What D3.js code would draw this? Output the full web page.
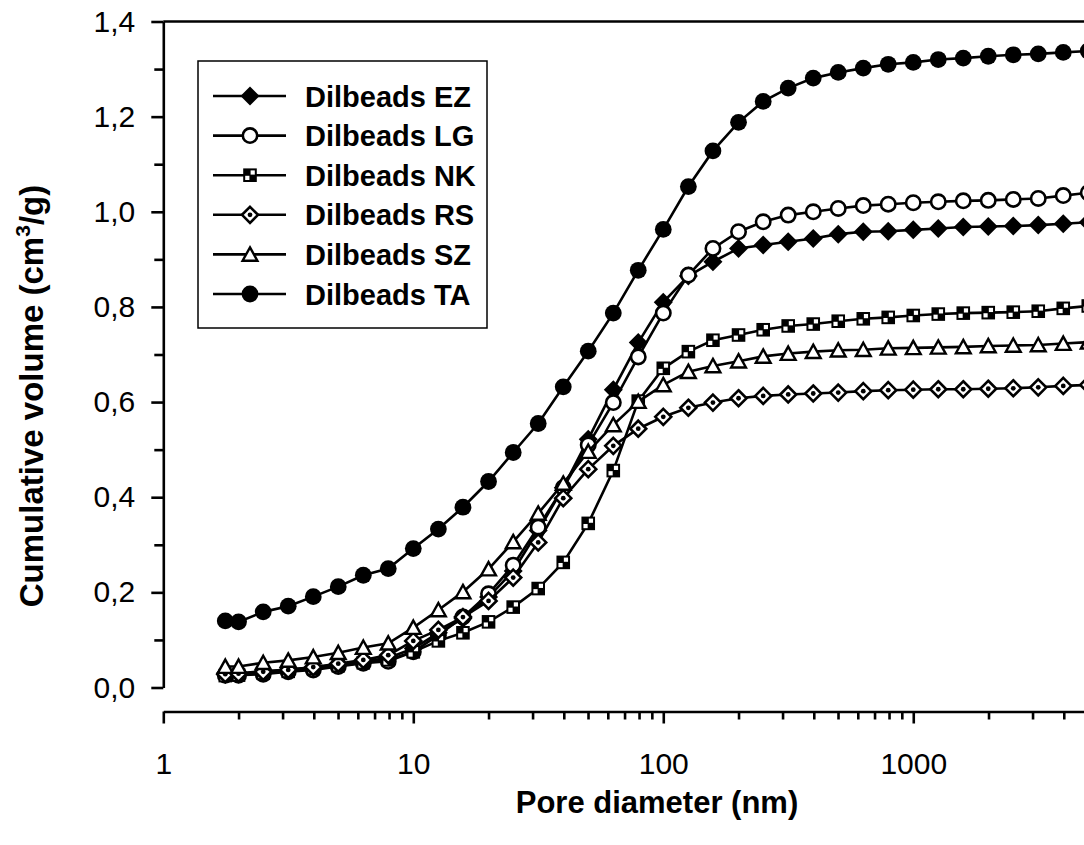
<!DOCTYPE html>
<html>
<head>
<meta charset="utf-8">
<script src="https://cdn.jsdelivr.net/npm/d3@7"></script>
<style>
  html, body { margin: 0; padding: 0; background: #fff; }
  text { font-family: 'Liberation Sans', Arial, sans-serif; }
</style>
</head>
<body>
<div id="chart"></div>
<script>
// data
const diameters = [1.77, 2.0, 2.51, 3.16, 3.98, 5.01, 6.31, 7.94, 10.0, 12.6, 15.8, 20.0,
  25.1, 31.6, 39.8, 50.1, 63.1, 79.4, 100, 126, 158, 200, 251, 316, 398, 501, 631, 794,
  1000, 1259, 1585, 1995, 2512, 3162, 3981, 5012]

const ez = [0.030, 0.030, 0.034, 0.038, 0.042, 0.048, 0.055, 0.062, 0.082, 0.115, 0.145, 0.190,
  0.245, 0.330, 0.420, 0.522, 0.626, 0.725, 0.810, 0.865, 0.895, 0.923, 0.930, 0.937,
  0.944, 0.953, 0.958, 0.959, 0.962, 0.965, 0.968, 0.969, 0.970, 0.972, 0.975, 0.978]
const lg = [0.026, 0.026, 0.028, 0.033, 0.037, 0.044, 0.051, 0.055, 0.075, 0.110, 0.148, 0.197,
  0.257, 0.337, 0.420, 0.510, 0.599, 0.695, 0.787, 0.867, 0.923, 0.958, 0.979, 0.993,
  1.000, 1.007, 1.013, 1.016, 1.019, 1.021, 1.023, 1.024, 1.026, 1.028, 1.034, 1.040]
const nk = [0.025, 0.026, 0.030, 0.034, 0.040, 0.046, 0.052, 0.058, 0.075, 0.098, 0.115, 0.138,
  0.169, 0.208, 0.263, 0.345, 0.456, 0.602, 0.671, 0.706, 0.730, 0.741, 0.752, 0.760,
  0.764, 0.770, 0.775, 0.778, 0.782, 0.785, 0.787, 0.788, 0.789, 0.791, 0.797, 0.802]
const rs = [0.028, 0.029, 0.033, 0.037, 0.043, 0.050, 0.058, 0.068, 0.098, 0.121, 0.148, 0.182,
  0.231, 0.305, 0.398, 0.459, 0.508, 0.544, 0.569, 0.588, 0.599, 0.608, 0.613, 0.616,
  0.618, 0.620, 0.623, 0.625, 0.626, 0.627, 0.627, 0.628, 0.629, 0.631, 0.634, 0.636]
const sz = [0.044, 0.044, 0.052, 0.057, 0.064, 0.073, 0.084, 0.093, 0.126, 0.163, 0.201, 0.249,
  0.306, 0.366, 0.429, 0.496, 0.552, 0.601, 0.636, 0.664, 0.676, 0.686, 0.696, 0.702,
  0.706, 0.709, 0.710, 0.713, 0.714, 0.715, 0.716, 0.718, 0.719, 0.720, 0.723, 0.726]
const ta = [0.140, 0.138, 0.159, 0.171, 0.191, 0.212, 0.236, 0.250, 0.292, 0.333, 0.379, 0.433,
  0.494, 0.555, 0.632, 0.707, 0.787, 0.877, 0.963, 1.053, 1.128, 1.188, 1.232, 1.260,
  1.281, 1.293, 1.302, 1.310, 1.314, 1.320, 1.323, 1.327, 1.330, 1.332, 1.335, 1.338]

const seriesNames = ['Dilbeads EZ', 'Dilbeads LG', 'Dilbeads NK', 'Dilbeads RS', 'Dilbeads SZ', 'Dilbeads TA']
const seriesValues = [ez, lg, nk, rs, sz, ta]
const seriesMarkers = ['diamondFilled', 'circleOpen', 'squareChecker', 'diamondDot', 'triangleOpen', 'circleFilled']

const yMajorTicks = [0, 0.2, 0.4, 0.6, 0.8, 1.0, 1.2, 1.4]
const yMinorTicks = [0.1, 0.3, 0.5, 0.7, 0.9, 1.1, 1.3]
const xMajorTicks = [1, 10, 100, 1000]
const xMinorTicks = [2, 3, 4, 5, 6, 7, 8, 9, 20, 30, 40, 50, 60, 70, 80, 90,
  200, 300, 400, 500, 600, 700, 800, 900, 2000, 3000, 4000]

// size
const width = 1084
const height = 845
const xAxisY = 711.5

// scale
const x = d3.scaleLog().domain([1, 5000]).range([163.3, 1088])
const y = d3.scaleLinear().domain([0, 1.4]).range([687.5, 21.5])

const svg = d3
  .select('#chart')
  .append('svg')
  .attr('width', width)
  .attr('height', height)

svg.append('rect').attr('width', width).attr('height', height).attr('fill', '#fff')

// markers
function drawMarker(g, type) {
  if (type === 'circleFilled') {
    g.append('circle').attr('r', 8.4).attr('fill', '#000')
  } else if (type === 'circleOpen') {
    g.append('circle').attr('r', 7.2).attr('fill', '#fff').attr('stroke', '#000').attr('stroke-width', 2.6)
  } else if (type === 'diamondFilled') {
    g.append('path').attr('d', 'M0,-9.5L9.5,0L0,9.5L-9.5,0Z').attr('fill', '#000')
  } else if (type === 'diamondDot') {
    g.append('path').attr('d', 'M0,-8L8,0L0,8L-8,0Z')
      .attr('fill', '#fff').attr('stroke', '#000').attr('stroke-width', 2.6)
    g.append('circle').attr('r', 2.4).attr('fill', '#000')
  } else if (type === 'triangleOpen') {
    g.append('path').attr('d', 'M0,-7L7.4,6.3L-7.4,6.3Z')
      .attr('fill', '#fff').attr('stroke', '#000').attr('stroke-width', 2.4)
  } else if (type === 'squareChecker') {
    g.append('rect').attr('x', -6.8).attr('y', -6.8).attr('width', 13.6).attr('height', 13.6)
      .attr('fill', '#000')
    g.append('rect').attr('x', 0.6).attr('y', -4.8).attr('width', 4.2).attr('height', 4.2).attr('fill', '#fff')
    g.append('rect').attr('x', -4.8).attr('y', 0.6).attr('width', 4.2).attr('height', 4.2).attr('fill', '#fff')
  }
}

// top frame line
svg
  .append('line')
  .attr('x1', x(1))
  .attr('x2', width)
  .attr('y1', y(1.4))
  .attr('y2', y(1.4))
  .attr('stroke', '#000')
  .attr('stroke-width', 2.6)

// y-axis
const yAxis = svg
  .append('g')
  .attr('transform', `translate(${x(1)}, 0)`)
  .call(
    d3
      .axisLeft(y)
      .tickValues(yMajorTicks)
      .tickSize(12)
      .tickSizeOuter(0)
      .tickPadding(16)
      .tickFormat(d => d3.format('.1f')(d).replace('.', ',')),
  )
yAxis
  .append('g')
  .call(d3.axisLeft(y).tickValues(yMinorTicks).tickSize(9).tickSizeOuter(0).tickFormat(''))
  .select('.domain')
  .remove()

// x-axis
const xAxis = svg
  .append('g')
  .attr('transform', `translate(0, ${xAxisY})`)
  .call(
    d3
      .axisBottom(x)
      .tickValues(xMajorTicks)
      .tickSize(12)
      .tickSizeOuter(0)
      .tickPadding(29)
      .tickFormat(d3.format('d')),
  )
xAxis
  .append('g')
  .call(d3.axisBottom(x).tickValues(xMinorTicks).tickSize(8).tickSizeOuter(0).tickFormat(''))
  .select('.domain')
  .remove()

svg.selectAll('.domain, .tick line').attr('stroke', '#000').attr('stroke-width', 2.6)
svg.selectAll('.tick text')
  .attr('fill', '#000')
  .attr('font-size', '30px')
  .attr('font-family', "'Liberation Sans', Arial, sans-serif")

// x-axis label
svg
  .append('text')
  .attr('text-anchor', 'middle')
  .attr('font-size', '31px')
  .attr('font-weight', 'bold')
  .attr('x', 657)
  .attr('y', 813)
  .text('Pore diameter (nm)')

// y-axis label
const yLabel = svg
  .append('text')
  .attr('text-anchor', 'middle')
  .attr('font-size', '33px')
  .attr('font-weight', 'bold')
  .attr('transform', `translate(43, 396) rotate(-90)`)
yLabel.append('tspan').text('Cumulative volume (cm')
yLabel.append('tspan').attr('font-size', '21px').attr('dy', -13).text('3')
yLabel.append('tspan').attr('dy', 13).text('/g)')

// series
const line = d3
  .line()
  .x(d => x(d[0]))
  .y(d => y(d[1]))

seriesValues.forEach((values, i) => {
  const pts = diameters.map((d, j) => [d, values[j]])
  const g = svg.append('g')
  g.append('path')
    .attr('d', line(pts))
    .attr('fill', 'none')
    .attr('stroke', '#000')
    .attr('stroke-width', 2.6)
  pts.forEach(p => {
    const m = g.append('g').attr('transform', `translate(${x(p[0])}, ${y(p[1])})`)
    drawMarker(m, seriesMarkers[i])
  })
})

// legend
const legend = svg.append('g')
legend
  .append('rect')
  .attr('x', 198)
  .attr('y', 61)
  .attr('width', 289)
  .attr('height', 267)
  .attr('fill', '#fff')
  .attr('stroke', '#000')
  .attr('stroke-width', 1.5)

seriesNames.forEach((name, i) => {
  const row = legend.append('g').attr('transform', `translate(0, ${96 + i * 39.6})`)
  row.append('line').attr('x1', 213).attr('x2', 286).attr('stroke', '#000').attr('stroke-width', 2.6)
  drawMarker(row.append('g').attr('transform', 'translate(250, 0)'), seriesMarkers[i])
  row
    .append('text')
    .attr('x', 305)
    .attr('y', 10.5)
    .attr('font-size', '29px')
    .attr('font-weight', 'bold')
    .text(name)
})
</script>
</body>
</html>
